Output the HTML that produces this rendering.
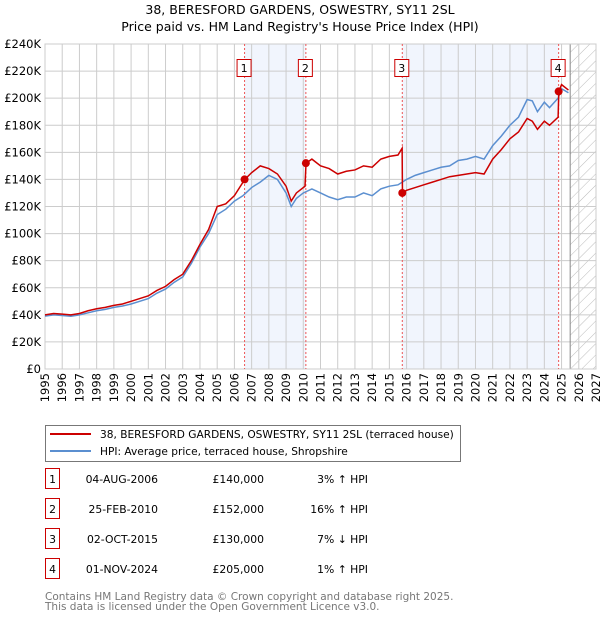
<!DOCTYPE html>
<html><head><meta charset="utf-8"><style>
body{margin:0;background:#fff;font-family:"Liberation Sans","DejaVu Sans",sans-serif;}
svg text{font-family:"DejaVu Sans","Liberation Sans",sans-serif;}
</style></head><body>
<svg id="c" width="600" height="620" xmlns="http://www.w3.org/2000/svg">
<defs><pattern id="hatch" width="8" height="8" patternUnits="userSpaceOnUse" patternTransform="rotate(45)"><line x1="0" y1="0" x2="0" y2="8" stroke="#bbb" stroke-width="1"/></pattern></defs>
<text x="300" y="14" text-anchor="middle" font-size="12.5">38, BERESFORD GARDENS, OSWESTRY, SY11 2SL</text>
<text x="300" y="31" text-anchor="middle" font-size="12.5">Price paid vs. HM Land Registry's House Price Index (HPI)</text>
<g id="plot"></g>
<g>
<rect x="45.5" y="425.5" width="415" height="36" fill="#fff" stroke="#777"/>
<line x1="50" y1="434" x2="91" y2="434" stroke="#cc0000" stroke-width="2"/>
<text x="100" y="438" font-size="10.6">38, BERESFORD GARDENS, OSWESTRY, SY11 2SL (terraced house)</text>
<line x1="50" y1="451" x2="91" y2="451" stroke="#5b8fd0" stroke-width="2"/>
<text x="100" y="455" font-size="10.6">HPI: Average price, terraced house, Shropshire</text>
</g>
<g id="tbl" font-size="10.8"></g>
<text x="45" y="600" font-size="10.5" fill="#777">Contains HM Land Registry data © Crown copyright and database right 2025.</text>
<text x="45" y="610" font-size="10.5" fill="#777">This data is licensed under the Open Government Licence v3.0.</text>
</svg>
<script>
const years=[1995,1995.5,1996,1996.5,1997,1997.5,1998,1998.5,1999,1999.5,2000,2000.5,2001,2001.5,2002,2002.5,2003,2003.5,2004,2004.5,2005,2005.5,2006,2006.5,2007,2007.5,2008,2008.5,2009,2009.3,2009.6,2010,2010.5,2011,2011.5,2012,2012.5,2013,2013.5,2014,2014.5,2015,2015.5,2016,2016.5,2017,2017.5,2018,2018.5,2019,2019.5,2020,2020.5,2021,2021.5,2022,2022.5,2023,2023.3,2023.6,2024,2024.3,2024.8,2025,2025.4];
const hpi=[39,40,39.5,39,40,41.5,43,44,45.5,46.5,48,50,52,56,59,64,68,78,90,100,114,118,124,128,134,138,143,140,130,120,126,130,133,130,127,125,127,127,130,128,133,135,136,140,143,145,147,149,150,154,155,157,155,165,172,180,186,199,198,190,197,193,200,207,204];
const priceYears=[1995,1995.5,1996,1996.5,1997,1997.5,1998,1998.5,1999,1999.5,2000,2000.5,2001,2001.5,2002,2002.5,2003,2003.5,2004,2004.5,2005,2005.5,2006,2006.6,2007,2007.5,2008,2008.5,2009,2009.3,2009.6,2010.1,2010.16,2010.5,2011,2011.5,2012,2012.5,2013,2013.5,2014,2014.5,2015,2015.5,2015.74,2015.76,2016,2016.5,2017,2017.5,2018,2018.5,2019,2019.5,2020,2020.5,2021,2021.5,2022,2022.5,2023,2023.3,2023.6,2024,2024.3,2024.8,2024.84,2025,2025.4];
const price=[40,41,40.5,40,41,43,44.5,45.5,47,48,50,52,54,58,61,66,70,80,92,103,120,122,128,140,145,150,148,144,135,124,130,135,152,155,150,148,144,146,147,150,149,155,157,158,163,130,132,134,136,138,140,142,143,144,145,144,155,162,170,175,185,183,177,183,180,186,205,210,206];
const sales=[{t:2006.59,v:140},{t:2010.15,v:152},{t:2015.75,v:130},{t:2024.83,v:205}];
const yTicks=[0,20,40,60,80,100,120,140,160,180,200,220,240];
const xTicks=[1995,1996,1997,1998,1999,2000,2001,2002,2003,2004,2005,2006,2007,2008,2009,2010,2011,2012,2013,2014,2015,2016,2017,2018,2019,2020,2021,2022,2023,2024,2025,2026,2027];
const rows=[["1","04-AUG-2006","£140,000","3% ↑ HPI"],["2","25-FEB-2010","£152,000","16% ↑ HPI"],["3","02-OCT-2015","£130,000","7% ↓ HPI"],["4","01-NOV-2024","£205,000","1% ↑ HPI"]];
const X0=45,X1=596,Y0=369,Y1=44;
const sx=t=>X0+(t-1995)*(X1-X0)/32, sy=v=>Y0-v*(Y0-Y1)/240;
const NS="http://www.w3.org/2000/svg",g=document.getElementById('plot');
function mk(tag,at,par){const e=document.createElementNS(NS,tag);for(const k in at)e.setAttribute(k,at[k]);(par||g).appendChild(e);return e;}
let e;
e=mk('rect',{x:sx(sales[0].t),y:Y1,width:sx(sales[1].t)-sx(sales[0].t),height:Y0-Y1,fill:'#eef3fc',opacity:0.8});


e=mk('rect',{x:sx(sales[2].t),y:Y1,width:sx(sales[3].t)-sx(sales[2].t),height:Y0-Y1,fill:'#eef3fc',opacity:0.8});


e=mk('rect',{x:sx(2025.5),y:Y1,width:X1-sx(2025.5),height:Y0-Y1,fill:'url(#hatch)'});


yTicks.forEach(v=>{
 e=mk('line',{x1:X0,x2:X1,y1:sy(v),y2:sy(v),stroke:'#ccc','stroke-width':1});
 
 
 e=mk('text',{x:X0-4,y:sy(v)+4,'text-anchor':'end','font-size':11.5});
 e.textContent=v===0?'£0':'£'+v+'K';
 
 
});
xTicks.forEach(t=>{
 e=mk('line',{x1:sx(t),x2:sx(t),y1:Y1,y2:Y0,stroke:'#ccc','stroke-width':1});
 
 
 e=mk('text',{x:0,y:0,'text-anchor':'end','font-size':11.5,transform:`translate(${sx(t)+4},${Y0+4}) rotate(-90)`});
 e.textContent=t;
 
 
});
e=mk('line',{x1:sx(2025.5),x2:sx(2025.5),y1:Y1,y2:Y0,stroke:'#888','stroke-width':1});


e=mk('rect',{x:X0,y:Y1,width:X1-X0,height:Y0-Y1,fill:'none',stroke:'#ccc'});


sales.forEach((s,i)=>{
 e=mk('line',{x1:sx(s.t),x2:sx(s.t),y1:Y1,y2:Y0,stroke:'#e55','stroke-width':1,'stroke-dasharray':'2,2'});
 
 
});
e=mk('polyline',{points:years.map((t,i)=>sx(t)+','+sy(hpi[i])).join(' '),fill:'none',stroke:'#5b8fd0','stroke-width':1.5});


e=mk('polyline',{points:priceYears.map((t,i)=>sx(t)+','+sy(price[i])).join(' '),fill:'none',stroke:'#cc0000','stroke-width':1.5});


sales.forEach((s,i)=>{
 e=mk('circle',{cx:sx(s.t),cy:sy(s.v),r:4,fill:'#cc0000'});
 
 
 e=mk('rect',{x:sx(s.t)-7.5,y:59.5,width:14,height:17,fill:'#fff',stroke:'#cc0000'});
 
 
 e=mk('text',{x:sx(s.t)-0.5,y:72,'text-anchor':'middle','font-size':11});
 e.textContent=String(i+1);
 
 
});
const tb=document.getElementById('tbl');
rows.forEach((r,i)=>{
 const y=483+i*30;
 e=mk('rect',{x:45.5,y:y-14.5,width:14,height:20,fill:'#fff',stroke:'#cc0000'},tb);
 
 
 e=mk('text',{x:52.5,y:y,'text-anchor':'middle'},tb);e.textContent=r[0];
 
 
 e=mk('text',{x:158,y:y,'text-anchor':'end'},tb);e.textContent=r[1];
 
 
 e=mk('text',{x:264,y:y,'text-anchor':'end'},tb);e.textContent=r[2];
 
 
 e=mk('text',{x:368,y:y,'text-anchor':'end'},tb);e.textContent=r[3];
 
 
});
</script>
</body></html>
